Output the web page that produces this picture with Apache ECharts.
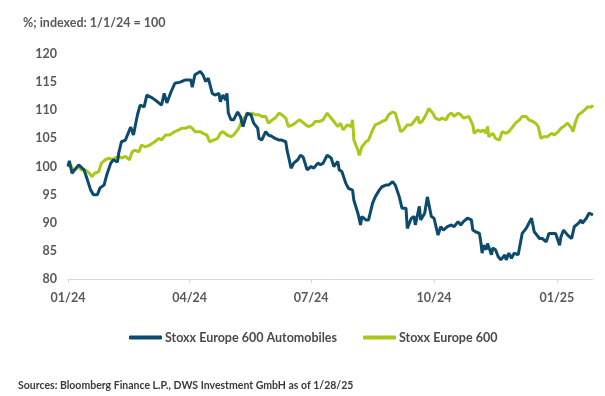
<!DOCTYPE html>
<html lang="en">
    <head>
        <meta charset="UTF-8" />
        <title>Stoxx Europe 600 Automobiles vs Stoxx Europe 600</title>
        <script src="https://cdn.jsdelivr.net/npm/echarts@6/dist/echarts.min.js"></script>
        <style>
            body {
                margin: 0;
                padding: 0;
                background: #fff;
            }
            #chart {
                width: 605px;
                height: 396px;
            }
        </style>
    </head>
    <body>
        <div id="chart"></div>
        <script>
            // days counted from 1/1/24, values indexed to 100
            let autoDays = [0, 1, 3, 8, 12, 14, 17, 19, 22, 24, 27, 29, 32, 34, 37, 38, 40, 43, 46, 47, 49, 52, 54, 57, 59, 63, 67, 70, 72, 74, 77, 80, 84, 88, 92, 93, 95,
                99, 101, 103, 105, 108, 110, 113, 114, 116, 118, 119, 120, 122, 124, 127, 129, 131, 134, 137, 139, 142, 143, 145, 148, 150, 153, 155, 158, 160, 163, 164, 167, 169, 172, 174, 176, 179, 182, 184, 187,
                189, 191, 194, 197, 199, 202, 203, 205, 208, 210, 213, 214, 217, 219, 220, 223, 225, 228, 230, 233, 235, 238, 240, 243, 245, 248, 250, 253, 254, 257, 259, 260, 263, 264, 267, 269, 272, 274, 277, 279, 281, 284,
                287, 289, 292, 294, 296, 299, 302, 303, 305, 308, 309, 310, 311, 313, 314, 315, 317, 318, 320, 322, 324, 327, 328, 330, 332, 334, 337, 338, 340, 343, 345, 347, 349, 350, 353, 355, 358, 360, 363, 365, 368, 369, 371, 374, 377, 379, 382, 384, 385, 388, 390, 393];
            let autoVals = [100, 101, 98.8, 100.3, 99.4, 98, 95.8, 95, 95, 96.2, 96.7, 98.5, 100.6, 101.2, 100.8, 102.4, 104.4, 104.7, 106.5, 107, 105.6, 109.2, 110.9, 110.6, 112.7, 112.2, 111.5, 110.9, 113, 111.3, 113.2, 114.8, 115, 115.4, 115.4, 114.1, 116.3,
                116.9, 116.3, 115.1, 115.7, 113, 112.7, 113, 111.5, 112.7, 111.8, 113, 109.5, 108.3, 108.3, 109.7, 108.9, 107.1, 109.5, 109.2, 107.7, 106.8, 105, 104.7, 106.2, 105.6, 105.3, 105, 104.7, 104.7, 104.4, 102.9, 99.7, 100.6, 101.2, 102, 101.7, 99.4, 100, 99.7, 100.6,
                100.3, 100.6, 102, 101.5, 100, 100.9, 99.4, 99.1, 97, 96.1, 95.8, 94, 91.7, 89.6, 91.1, 90.5, 90.5, 93.5, 94.6, 95.8, 96.4, 96.7, 96.7, 97.3, 96.7, 94.6, 92.6, 92.6, 89, 90.8, 91.1, 89.6, 92.9, 90.5, 91.7, 94.6, 91.1, 90.8, 87.8, 89.3, 88.7, 89.3,
                89.6, 89.3, 90.2, 89.6, 90.2, 90.8, 90.5, 88.7, 88.4, 88.1, 86.6, 84.6, 86, 85.2, 86.3, 85.7, 84.3, 85.5, 85.2, 84, 83.4, 84.3, 83.4, 84.6, 83.7, 84.6, 84.3, 84.6, 88.1, 89, 89.9, 90.8, 88.4, 88.1, 87.2, 87.2, 86.6, 88.1, 88.1, 88.1, 86, 87.5, 88.7, 87.8, 87.2, 89.3, 89.9, 90.5, 89.9, 90.8, 91.7, 91.4];

            let stoxxDays = [0, 2, 3, 5, 8, 10, 13, 16, 18, 20, 23, 25, 28, 31, 33, 35, 38, 40, 43, 46, 48, 50, 53, 55, 58, 61, 63, 65, 68, 70, 73, 76, 78, 80, 83, 85, 88, 91, 93, 95,
                97, 99, 101, 104, 106, 109, 112, 114, 116, 119, 122, 124, 127, 129, 130, 133, 135, 138, 140, 143, 145, 148, 150, 153, 155, 158, 160, 163, 165, 168, 170, 173, 175, 178, 180, 183, 185, 188,
                189, 191, 194, 197, 199, 202, 204, 206, 209, 212, 213, 214, 217, 218, 220, 223, 225, 228, 230, 233, 235, 238, 240, 243, 245, 248, 249, 251, 254, 257, 259, 262, 263, 265, 268, 270, 273, 275, 278, 280, 283, 285,
                287, 289, 292, 294, 296, 300, 303, 304, 307, 309, 311, 313, 314, 315, 318, 320, 323, 325, 328, 330, 333, 335, 338, 340, 343, 345, 348, 350, 352, 354, 356, 359, 362, 364, 367, 369, 371, 374, 377, 378, 380, 382, 384, 387, 389, 392, 393];
            let stoxxVals = [100, 100.3, 99.7, 99.4, 100, 99.4, 99.4, 98.8, 98.2, 98.8, 99.1, 100.6, 101.2, 101.5, 101.2, 101.5, 101.8, 101.5, 101.8, 101.2, 102.6, 102.9, 102.6, 103.8, 103.5, 103.8, 104.1, 104.4, 105, 104.7, 105.6, 105.6, 105.9, 106.2, 106.5, 106.8, 106.8, 107.1, 106.8, 106.2,
                106.2, 106.2, 105.9, 105.6, 104.4, 104.7, 105, 105.9, 106.2, 105.6, 105.3, 105.6, 106.5, 107.4, 108.3, 108.9, 109.2, 109.5, 109.2, 109.2, 108.9, 108.9, 107.7, 108.3, 108.6, 109.5, 109.2, 108.6, 107.1, 107.4, 107.7, 108.3, 108, 107.4, 107.1, 107.4, 108, 108,
                108, 108.3, 109.5, 108.6, 108, 107.1, 107.7, 106.5, 107.4, 107.1, 108.3, 104.7, 102.9, 102, 103.5, 104.4, 104.7, 106.5, 107.4, 107.7, 108, 108.3, 109.2, 109.7, 109.5, 107.1, 106.2, 106.5, 107.4, 107.4, 108, 108.9, 107.7, 108, 109.2, 110.3, 109.5, 108.6, 108.3, 108.6, 108.3, 109.2,
                109.5, 108.9, 109.5, 109.2, 108.6, 108.9, 107.4, 105.9, 106.5, 106.2, 106.5, 105.9, 107.1, 105.3, 105.9, 105, 104.7, 106.2, 105.9, 106.2, 107.1, 107.7, 108.3, 108.9, 108.9, 108.3, 108, 107.7, 107.1, 105, 105.3, 105.3, 105.9, 105.6, 106.2, 106.8, 107.1, 107.7, 106.8, 106.2, 108, 109.2, 109.5, 110.1, 110.6, 110.6, 110.9];

            // quarter starts, in days from 1/1/24
            let tickDays = [0, 91, 182, 274, 366];
            let tickLabels = ['01/24', '04/24', '07/24', '10/24', '01/25'];
            let lastDay = 393; // 1/28/25

            function pairs(days, vals) {
                return days.map((d, i) => [d, vals[i]]);
            }

            let labelColor = '#595959';
            let font = 'Lato';

            let chartDom = document.getElementById('chart');
            let myChart = echarts.init(chartDom);

            let option = {
                animation: false,
                textStyle: { fontFamily: font },
                title: [
                    {
                        text: '%; indexed: 1/1/24 = 100',
                        left: 18,
                        top: 11,
                        textStyle: { fontFamily: font, fontSize: 12.5, fontWeight: 'bold', color: labelColor }
                    },
                    {
                        text: 'Sources: Bloomberg Finance L.P., DWS Investment GmbH as of 1/28/25',
                        left: 13,
                        top: 375,
                        textStyle: { fontFamily: font, fontSize: 10.5, fontWeight: 'bold', color: '#3a3a3a' }
                    }
                ],
                legend: {
                    left: 124,
                    top: 326,
                    itemWidth: 33,
                    itemHeight: 4,
                    itemGap: 26,
                    icon: 'roundRect',
                    textStyle: { fontFamily: font, fontSize: 12.5, fontWeight: 'bold', color: '#4a4a4a', padding: [0, 0, 0, -2] }
                },
                grid: {
                    left: 68,
                    right: 12,
                    top: 54,
                    bottom: 117
                },
                xAxis: {
                    type: 'value',
                    min: 0,
                    max: lastDay,
                    axisLine: { show: true, lineStyle: { color: '#d9d9d9', width: 1 } },
                    axisTick: { show: true, customValues: tickDays, length: 4, lineStyle: { color: '#d9d9d9' } },
                    splitLine: { show: false },
                    axisLabel: {
                        customValues: tickDays,
                        margin: 12,
                        fontFamily: font,
                        fontSize: 12.5,
                        fontWeight: 'bold',
                        color: labelColor,
                        formatter: function (v) {
                            let i = tickDays.indexOf(v);
                            return i >= 0 ? tickLabels[i] : '';
                        }
                    }
                },
                yAxis: {
                    type: 'value',
                    min: 80,
                    max: 120,
                    interval: 5,
                    axisLine: { show: false },
                    axisTick: { show: false },
                    splitLine: { show: false },
                    axisLabel: { margin: 11, fontFamily: font, fontSize: 12.5, fontWeight: 'bold', color: labelColor }
                },
                series: [
                    {
                        name: 'Stoxx Europe 600 Automobiles',
                        type: 'line',
                        showSymbol: false,
                        color: '#0c4a6e',
                        lineStyle: { width: 3 },
                        z: 3,
                        data: pairs(autoDays, autoVals)
                    },
                    {
                        name: 'Stoxx Europe 600',
                        type: 'line',
                        showSymbol: false,
                        color: '#a8c81a',
                        lineStyle: { width: 3 },
                        z: 2,
                        data: pairs(stoxxDays, stoxxVals)
                    }
                ]
            };
            myChart.setOption(option);
        </script>
    </body>
</html>
